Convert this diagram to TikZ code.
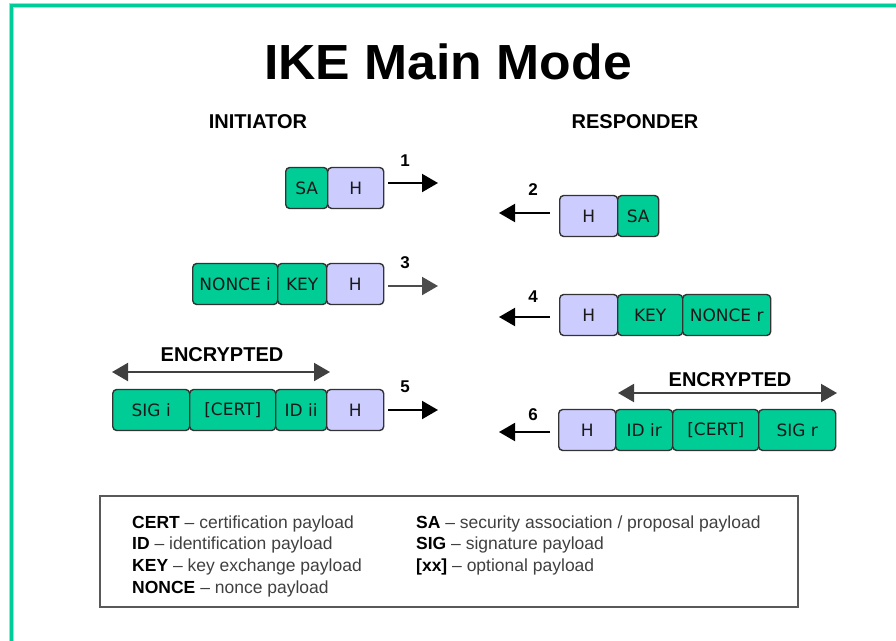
\documentclass[tikz,border=0pt]{standalone}
\usepackage{fontspec}
\setmainfont{Liberation Sans}
\newfontfamily\pfont{DejaVu Sans}
\usetikzlibrary{arrows.meta}
\definecolor{framegreen}{RGB}{0,204,153}
\definecolor{pgreen}{RGB}{0,204,150}
\definecolor{plav}{RGB}{204,204,255}
\tikzset{
  payload/.style={draw=black!80, line width=1.4pt, rounded corners=4pt,
    minimum height=41pt, inner sep=0pt, anchor=west,
    font=\pfont\fontsize{17}{20}\selectfont, text=black!90},
  gbox/.style={payload, fill=pgreen},
  hbox/.style={payload, fill=plav},
  msg/.style={line width=2pt, -{Triangle[length=16pt,width=18pt]}},
  enc/.style={line width=2pt, draw=black!75,
    {Triangle[length=16pt,width=18pt]}-{Triangle[length=16pt,width=18pt]}},
  head/.style={font=\fontsize{20}{24}\selectfont\bfseries},
  num/.style={font=\fontsize{17}{20}\selectfont\bfseries},
  legend/.style={anchor=base west, inner sep=0pt,
    font=\fontsize{17.5}{20}\selectfont, text=black!75},
}
\newcommand{\term}[1]{\textcolor{black}{\bfseries #1}}
\begin{document}
\begin{tikzpicture}[x=1pt,y=-1pt]
  \useasboundingbox (0,0) rectangle (896,640);
  % outer frame (open to the right and bottom)
  \draw[framegreen!45, line width=5pt] (11,660) -- (11,5) -- (910,5);
  \draw[framegreen, line width=3pt] (11,660) -- (11,5) -- (910,5);

  % title and column headings
  \node (title) at (448,62) {\scalebox{1.1}[1.05]{\fontsize{47}{56}\selectfont\bfseries IKE Main Mode}};
  \node[head] (init) at (258,122) {INITIATOR};
  \node[head] (resp) at (635,122) {RESPONDER};

  % message 1
  \node[gbox, minimum width=42pt] (sa1) at (285,188) {SA};
  \node[hbox, minimum width=56pt] (h1) at (327,188) {H};
  \coordinate (t1) at (438,183);
  \draw[msg] (388,183) -- (t1);
  \node[num] (n1) at (405,161) {1};

  % message 2
  \node[hbox, minimum width=58pt] (h2) at (559,216) {H};
  \node[gbox, minimum width=41pt] (sa2) at (617,216) {SA};
  \coordinate (t2) at (499,213);
  \draw[msg] (550,213) -- (t2);
  \node[num] (n2) at (533,190) {2};

  % message 3
  \node[gbox, minimum width=85pt] (ni) at (192,284) {NONCE i};
  \node[gbox, minimum width=49pt] (key3) at (277,284) {KEY};
  \node[hbox, minimum width=57pt] (h3) at (326,284) {H};
  \coordinate (t3) at (438,286);
  \draw[msg, draw=black!70] (388,286) -- (t3);
  \node[num] (n3) at (405,263) {3};

  % message 4
  \node[hbox, minimum width=58pt] (h4) at (559,315) {H};
  \node[gbox, minimum width=65pt] (key4) at (617,315) {KEY};
  \node[gbox, minimum width=88pt] (nr) at (682,315) {NONCE r};
  \coordinate (t4) at (499,317);
  \draw[msg] (550,317) -- (t4);
  \node[num] (n4) at (533,297) {4};

  % message 5
  \node[head] (enc5) at (222,355) {ENCRYPTED};
  \coordinate (e5a) at (112,372);
  \coordinate (e5b) at (330,372);
  \draw[enc] (e5a) -- (e5b);
  \node[gbox, minimum width=77pt] (sigi) at (112,410) {SIG i};
  \node[gbox, minimum width=86pt] (cert5) at (189,410) {[CERT]};
  \node[gbox, minimum width=51pt] (idii) at (275,410) {ID ii};
  \node[hbox, minimum width=57pt] (h5) at (326,410) {H};
  \coordinate (t5) at (438,410);
  \draw[msg] (388,410) -- (t5);
  \node[num] (n5) at (405,387) {5};

  % message 6
  \node[head] (enc6) at (730,380) {ENCRYPTED};
  \coordinate (e6a) at (618,393);
  \coordinate (e6b) at (837,393);
  \draw[enc] (e6a) -- (e6b);
  \node[hbox, minimum width=57pt] (h6) at (558,430) {H};
  \node[gbox, minimum width=57pt] (idir) at (615,430) {ID ir};
  \node[gbox, minimum width=86pt] (cert6) at (672,430) {[CERT]};
  \node[gbox, minimum width=77pt] (sigr) at (758,430) {SIG r};
  \coordinate (t6) at (499,432);
  \draw[msg] (550,432) -- (t6);
  \node[num] (n6) at (533,415) {6};

  % legend
  \draw[black!65, line width=2pt] (100,496) rectangle (798,607);
  \node[legend] (lg1) at (132,528) {\term{CERT} -- certification payload};
  \node[legend] (lg2) at (132,549.5) {\term{ID} -- identification payload};
  \node[legend] (lg3) at (132,571.5) {\term{KEY} -- key exchange payload};
  \node[legend] (lg4) at (132,593) {\term{NONCE} -- nonce payload};
  \node[legend] (lg5) at (416,528) {\term{SA} -- security association / proposal payload};
  \node[legend] (lg6) at (416,549.5) {\term{SIG} -- signature payload};
  \node[legend] (lg7) at (416,571.5) {\term{[xx]} -- optional payload};
\end{tikzpicture}
\end{document}
